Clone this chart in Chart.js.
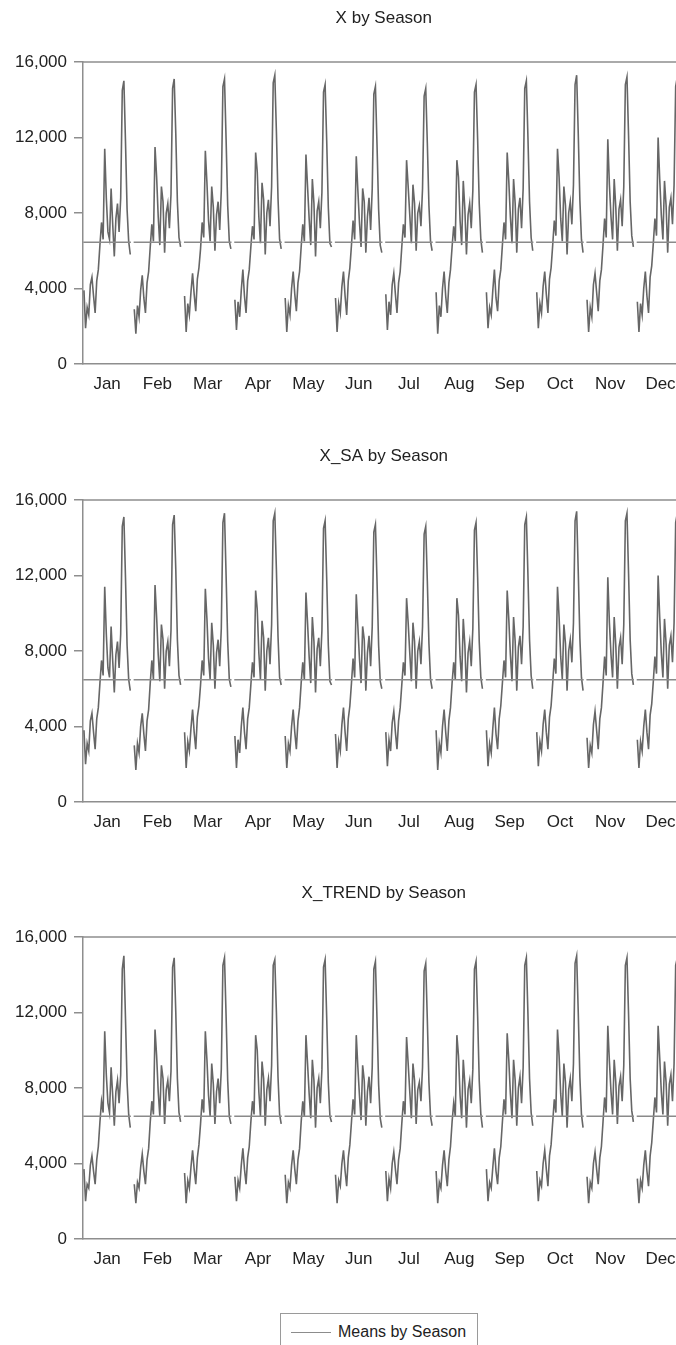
<!DOCTYPE html>
<html>
<head>
<meta charset="utf-8">
<title>X by Season</title>
<script src="https://cdn.jsdelivr.net/npm/chart.js@4.4.3/dist/chart.umd.min.js"></script>
<style>
  html, body {
    margin: 0;
    padding: 0;
    width: 676px;
    height: 1345px;
    overflow: hidden;
    background: #fff;
    font-family: "Liberation Sans", Arial, sans-serif;
  }
  .panel {
    position: absolute;
    left: 0;
  }
  .legend {
    position: absolute;
    left: 280px;
    top: 1313px;
    width: 198px;
    height: 44px;
    box-sizing: border-box;
    border: 1px solid #9a9a9a;
  }
  .legend .swatch {
    position: absolute;
    left: 10px;
    top: 18px;
    width: 40px;
    border-top: 1.5px solid #8c8c8c;
  }
  .legend .label {
    position: absolute;
    left: 57px;
    top: 9px;
    font-size: 16px;
    color: #222;
    white-space: nowrap;
  }
</style>
</head>
<body>
<canvas class="panel" id="panel-x" width="676" height="404" style="top:0px"></canvas>
<canvas class="panel" id="panel-sa" width="676" height="404" style="top:438px"></canvas>
<canvas class="panel" id="panel-trend" width="676" height="404" style="top:875px"></canvas>
<div class="legend"><div class="swatch"></div><div class="label">Means by Season</div></div>

<script>
const monthLabels = ["Jan", "Feb", "Mar", "Apr", "May", "Jun", "Jul", "Aug", "Sep", "Oct", "Nov", "Dec"];
const yTicks = [0, 4000, 8000, 12000, 16000];

// X, one row per month (values over the years)
const xByMonth = [
  [3900,1900,3000,2600,4200,4600,3600,2700,4400,5000,6300,7500,6600,11400,8800,7000,6600,9300,7400,5700,7700,8500,7000,8800,14500,15000,11800,8200,6500,5800],
  [2900,1600,3100,2500,3900,4700,3500,2700,4300,4900,6200,7400,6500,11500,9900,7800,6300,9400,8600,5900,8000,8500,7200,9000,14600,15100,12200,8600,6700,6200],
  [3600,1700,3200,2600,3800,4800,3700,2800,4500,5100,6100,7500,6700,11300,9600,7600,6500,9400,8300,6000,7900,8600,7100,9200,14700,15100,11900,8400,6500,6100],
  [3400,1800,3300,2500,3900,5000,3600,2700,4400,5000,6200,7300,6600,11200,10200,7800,6400,9600,8700,5800,8000,8700,7300,9400,14900,15300,12300,8800,6600,6100],
  [3500,1700,3100,2600,4000,4900,3700,2800,4300,4900,6200,7400,6500,11100,9400,7700,6300,9800,8500,5700,8100,8600,7200,9100,14400,14800,11800,8300,6400,6200],
  [3500,1700,3200,2700,4100,4900,3600,2600,4400,5100,6300,7600,6600,11000,9200,7500,6200,9300,8600,5900,7800,8800,7100,9300,14300,14700,11600,8200,6300,5900],
  [3700,1800,3300,2600,4200,4800,3700,2700,4300,4900,6200,7400,6700,10800,9400,7900,6400,9500,8500,6000,8000,8400,7300,9300,14200,14600,11700,8400,6500,6000],
  [3800,1600,3100,2500,4000,4900,3600,2700,4300,5000,6200,7300,6500,10800,9900,7600,6300,9700,8200,5800,7900,8500,7200,9200,14400,14800,11900,8500,6600,5900],
  [3800,1900,3000,2600,3900,5000,3500,2800,4400,5000,6300,7500,6600,11200,9700,7800,6400,9800,8500,5900,8200,8800,7200,9300,14600,15000,12000,8600,6700,6000],
  [3800,1900,3200,2700,4100,4900,3700,2700,4500,5100,6300,7600,6800,11400,9900,7700,6500,9400,8400,5800,8000,8600,7400,9500,14800,15300,12200,8700,6600,5900],
  [3400,1700,3000,2500,4200,4800,3800,2800,4400,5000,6300,7700,6700,11900,9500,7800,6600,9800,8300,6000,8200,8700,7300,9400,14800,15200,12100,8600,6800,6200],
  [3300,1700,3200,2600,4000,4900,3600,2700,4600,5200,6400,7700,6800,12000,9800,7900,6600,9700,8400,5900,8300,8800,7400,9500,14700,15200,12300,8800,6700,6300],
];
const xMeans = [6450, 6450, 6450, 6450, 6450, 6450, 6450, 6450, 6450, 6450, 6450, 6450];

// X_SA
const saByMonth = [
  [3800,2000,3100,2700,4300,4700,3700,2800,4400,5000,6300,7500,6700,11400,8900,7100,6600,9300,7500,5800,7800,8500,7100,8900,14600,15100,11900,8300,6500,5900],
  [3000,1700,3100,2600,4000,4700,3600,2700,4300,4900,6300,7500,6500,11500,9800,7800,6400,9400,8600,6000,8000,8500,7200,9100,14700,15200,12300,8600,6700,6200],
  [3700,1800,3200,2700,3900,4900,3700,2800,4500,5100,6200,7500,6700,11300,9700,7600,6500,9500,8300,6000,7900,8600,7200,9200,14800,15300,12000,8500,6500,6100],
  [3500,1800,3300,2600,4000,5000,3700,2800,4400,5000,6200,7400,6600,11200,10200,7900,6500,9600,8700,5900,8000,8700,7300,9400,14900,15300,12300,8800,6600,6200],
  [3500,1800,3100,2700,4000,4900,3700,2800,4300,5000,6300,7400,6500,11100,9500,7700,6300,9800,8500,5800,8100,8700,7200,9100,14500,14900,11800,8300,6400,6200],
  [3600,1800,3200,2700,4100,5000,3700,2700,4400,5100,6300,7600,6600,11000,9300,7600,6300,9300,8600,5900,7900,8800,7200,9300,14300,14700,11700,8300,6400,6000],
  [3700,1900,3300,2700,4200,4800,3700,2800,4300,5000,6200,7400,6700,10800,9500,7900,6400,9500,8500,6000,8000,8500,7300,9300,14200,14600,11700,8400,6500,6000],
  [3800,1700,3100,2600,4000,4900,3700,2700,4300,5000,6300,7400,6500,10800,9900,7700,6400,9700,8300,5800,7900,8500,7200,9200,14400,14800,11900,8500,6600,6000],
  [3800,1900,3100,2600,3900,5000,3600,2800,4400,5100,6300,7500,6600,11200,9700,7800,6400,9800,8500,5900,8200,8800,7300,9300,14700,15100,12000,8600,6700,6000],
  [3700,1900,3200,2700,4100,4900,3700,2800,4500,5100,6300,7600,6800,11400,9800,7700,6500,9400,8400,5900,8000,8600,7400,9500,14900,15400,12200,8700,6600,5900],
  [3400,1800,3000,2600,4100,4800,3800,2800,4400,5000,6300,7700,6700,11900,9500,7800,6600,9800,8300,6000,8200,8700,7300,9400,14900,15300,12100,8600,6800,6200],
  [3300,1800,3200,2700,4000,4900,3700,2800,4600,5200,6400,7700,6800,12000,9800,7900,6600,9700,8400,6000,8300,8800,7400,9500,14800,15300,12300,8800,6700,6300],
];
const saMeans = [6480, 6480, 6480, 6480, 6480, 6480, 6480, 6480, 6480, 6480, 6480, 6480];

// X_TREND
const trendByMonth = [
  [3700,2000,2900,2700,3900,4400,3600,2900,4200,4900,6200,7300,6700,11000,8700,7200,6700,9100,7600,6000,7800,8400,7200,8700,14300,15000,11700,8300,6600,5900],
  [2900,1900,3000,2700,3800,4500,3600,2900,4200,4800,6200,7300,6600,11100,9700,7800,6500,9200,8500,6100,7900,8400,7300,8900,14400,14900,12000,8500,6700,6200],
  [3500,1900,3100,2700,3800,4700,3700,2900,4300,5000,6100,7400,6700,11000,9500,7600,6500,9300,8200,6100,7800,8500,7200,9000,14500,14900,11800,8400,6500,6100],
  [3300,2000,3100,2700,3900,4800,3700,2900,4300,4900,6200,7300,6600,10800,10000,7800,6500,9400,8500,6000,7900,8500,7300,9200,14500,14800,12000,8600,6600,6100],
  [3400,1900,3000,2700,3900,4700,3700,2900,4200,4800,6200,7300,6500,10800,9300,7700,6400,9500,8400,5900,8000,8500,7200,9000,14400,14800,11700,8300,6500,6200],
  [3400,1900,3100,2800,4000,4700,3600,2800,4300,5000,6200,7400,6600,10800,9100,7600,6300,9200,8400,6000,7800,8600,7200,9100,14300,14700,11600,8200,6400,5900],
  [3600,2000,3200,2700,4000,4600,3700,2900,4200,4800,6100,7300,6600,10700,9300,7800,6400,9300,8400,6100,7900,8300,7300,9100,14200,14600,11600,8300,6500,6000],
  [3600,1900,3000,2700,3900,4700,3600,2800,4200,4900,6200,7200,6500,10800,9700,7600,6400,9500,8200,5900,7900,8400,7200,9000,14300,14700,11800,8400,6600,5900],
  [3700,2000,3000,2700,3800,4800,3600,2900,4300,4900,6200,7400,6600,10900,9500,7700,6400,9500,8400,6000,8000,8600,7200,9100,14500,14900,11900,8500,6700,6000],
  [3600,2000,3100,2800,4000,4700,3700,2800,4400,5000,6200,7400,6700,11100,9700,7700,6500,9300,8300,5900,7900,8500,7300,9300,14600,15000,12000,8600,6600,5900],
  [3300,1900,3000,2700,4000,4600,3700,2900,4300,4900,6200,7500,6700,11300,9400,7800,6600,9500,8300,6100,8100,8600,7300,9200,14500,14900,11900,8500,6800,6200],
  [3200,1900,3100,2700,3900,4700,3600,2800,4400,5100,6300,7500,6700,11300,9600,7800,6600,9400,8300,6000,8200,8700,7300,9300,14500,14900,12100,8700,6700,6300],
];
const trendMeans = [6500, 6500, 6500, 6500, 6500, 6500, 6500, 6500, 6500, 6500, 6500, 6500];

// layout of the month blocks along the x axis (in observation units)
const PERIOD = 31.5;
const X_MIN = -0.6;
const X_MAX = 370.7;

const LINE_COLOR = "#666666";
const MEAN_COLOR = "#8a8a8a";
const FRAME_COLOR = "#8e8e8e";
const TEXT_COLOR = "#222";
const FONT_FAMILY = '"Liberation Sans", Arial, sans-serif';

function segmentCenter(monthIndex, count) {
  return monthIndex * PERIOD + (count - 1) / 2;
}

function buildDatasets(seriesByMonth, means) {
  const meanSets = means.map((mean, m) => ({
    data: [
      { x: m * PERIOD - 0.4, y: mean },
      { x: m * PERIOD + seriesByMonth[m].length - 0.6, y: mean },
    ],
    borderColor: MEAN_COLOR,
    borderWidth: 1.5,
    pointRadius: 0,
  }));
  const lineSets = seriesByMonth.map((values, m) => ({
    data: values.map((value, j) => ({ x: m * PERIOD + j, y: value })),
    borderColor: LINE_COLOR,
    borderWidth: 1.6,
    pointRadius: 0,
    tension: 0,
  }));
  return [...meanSets, ...lineSets];
}

const frameAndTitle = {
  id: "frameAndTitle",
  afterDraw(chart, args, opts) {
    const { ctx, chartArea, scales } = chart;
    ctx.save();
    ctx.strokeStyle = FRAME_COLOR;
    ctx.lineWidth = 1.5;
    ctx.beginPath();
    ctx.moveTo(chartArea.left, chartArea.top);
    ctx.lineTo(chartArea.right, chartArea.top);
    ctx.stroke();

    const mid = (monthLabels.length * PERIOD - (PERIOD - 29)) / 2;
    ctx.fillStyle = TEXT_COLOR;
    ctx.font = `17px ${FONT_FAMILY}`;
    ctx.textAlign = "center";
    ctx.textBaseline = "middle";
    ctx.fillText(opts.text, scales.x.getPixelForValue(mid), opts.y);
    ctx.restore();
  },
};

function renderPanel(canvasId, title, seriesByMonth, means) {
  const canvas = document.getElementById(canvasId);
  const pointCount = seriesByMonth[0].length;
  return new Chart(canvas, {
    type: "line",
    data: { datasets: buildDatasets(seriesByMonth, means) },
    options: {
      responsive: false,
      animation: false,
      devicePixelRatio: 1,
      layout: { padding: { top: 62, left: 0, right: 0, bottom: 0 } },
      plugins: {
        legend: { display: false },
        tooltip: { enabled: false },
        frameAndTitle: { text: title, y: 18 },
      },
      scales: {
        x: {
          type: "linear",
          min: X_MIN,
          max: X_MAX,
          afterBuildTicks(scale) {
            scale.ticks = monthLabels.map((_, m) => ({
              value: segmentCenter(m, pointCount),
            }));
          },
          afterFit(scale) {
            scale.height = 40;
            scale.paddingLeft = 0;
            scale.paddingRight = 0;
          },
          ticks: {
            autoSkip: false,
            maxRotation: 0,
            padding: 10,
            color: TEXT_COLOR,
            font: { family: FONT_FAMILY, size: 17 },
            callback: (value, index) => monthLabels[index],
          },
          grid: { display: false, drawTicks: false },
          border: { display: true, color: FRAME_COLOR, width: 1.5 },
        },
        y: {
          min: 0,
          max: 16000,
          afterBuildTicks(scale) {
            scale.ticks = yTicks.map((value) => ({ value }));
          },
          afterFit(scale) {
            scale.width = 83;
          },
          ticks: {
            padding: 7,
            color: TEXT_COLOR,
            font: { family: FONT_FAMILY, size: 17 },
            callback: (value) => value.toLocaleString("en-US"),
          },
          grid: {
            drawOnChartArea: false,
            drawTicks: true,
            tickLength: 9,
            color: FRAME_COLOR,
            lineWidth: 1.5,
          },
          border: { display: true, color: FRAME_COLOR, width: 1.5 },
        },
      },
    },
    plugins: [frameAndTitle],
  });
}

renderPanel("panel-x", "X by Season", xByMonth, xMeans);
renderPanel("panel-sa", "X_SA by Season", saByMonth, saMeans);
renderPanel("panel-trend", "X_TREND by Season", trendByMonth, trendMeans);
</script>
</body>
</html>
